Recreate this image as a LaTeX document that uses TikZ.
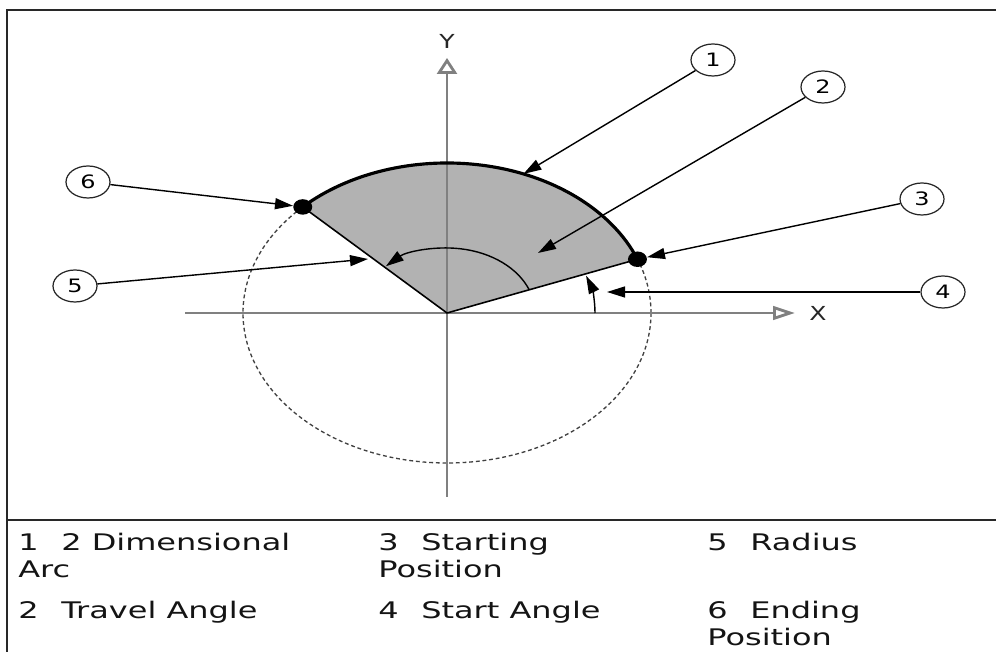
\documentclass[tikz,border=0pt]{standalone}
\usepackage{graphicx}
\usepackage{fontspec}
\setmainfont{DejaVu Sans}
\usetikzlibrary{arrows.meta,shapes.geometric}
\newcommand\sx[1]{\scalebox{1.4}[1]{#1}}
\definecolor{axisgray}{HTML}{808080}
\definecolor{sectorgray}{HTML}{B2B2B2}
\definecolor{framegray}{HTML}{282828}
\tikzset{
  frameline/.style={draw=framegray, line width=1.3pt},
  axisline/.style={draw=axisgray, line width=1.6pt},
  leader/.style={draw=black, line width=0.8pt, -{Triangle[length=0.36cm,width=0.22cm]}},
  callout/.style={ellipse, draw=black!85, line width=0.7pt, minimum width=0.88cm, minimum height=0.64cm, inner sep=0pt, font=\fontsize{10.5}{12}\selectfont},
  dotnode/.style={ellipse, fill=black, minimum width=0.38cm, minimum height=0.31cm, inner sep=0pt},
  lg/.style={anchor=base west, inner sep=0pt, font=\fontsize{13}{15}\selectfont, text=black!92},
  axlabel/.style={inner sep=0pt, font=\fontsize{11}{13}\selectfont, text=black!85}
}
\begin{document}
\begin{tikzpicture}[x=0.02cm,y=0.02cm]
\useasboundingbox (0,0) rectangle (996,652);
% frame
\coordinate (fTL) at (7,642);
\coordinate (fTR) at (996,642);
\coordinate (fBL) at (7,0);
\coordinate (sL) at (7,132);
\coordinate (sR) at (996,132);
\draw[frameline] (fTR) -- (fTL) -- (fBL);
\draw[frameline] (sL) -- (sR);

\coordinate (O) at (447,339);
% sector fill
\fill[sectorgray] (O) -- ([shift={(21:204 and 150)}]O) arc[start angle=21,end angle=135,x radius=204,y radius=150] -- cycle;
% dashed ellipse
\draw[draw=black!75, line width=0.75pt, dash pattern=on 2.2pt off 1.6pt] (O) ellipse[x radius=204, y radius=150];
% axes
\coordinate (yB) at (447,155);
\coordinate (yT) at (447,594);
\coordinate (xL) at (185,339);
\coordinate (xR) at (795,339);
\draw[axisline, -{Triangle[open, length=0.32cm, width=0.4cm, fill=white]}] (yB) -- (yT);
\draw[axisline, -{Triangle[open, length=0.44cm, width=0.27cm, fill=white]}] (xL) -- (xR);
\node[axlabel] (ylab) at (447,611) {\scalebox{1.3}[1]{Y}};
\node[axlabel] (xlab) at (818,339) {\scalebox{1.3}[1]{X}};
% sector edges
\draw[black, line width=0.9pt] ([shift={(135:204 and 150)}]O) -- (O) -- ([shift={(21:204 and 150)}]O);
\draw[black, line width=1.8pt] ([shift={(21:204 and 150)}]O) arc[start angle=21,end angle=135,x radius=204,y radius=150];
% travel angle arc
\draw[leader] ([shift={(21:88 and 65)}]O) arc[start angle=21,end angle=134,x radius=88,y radius=65];
% start angle arc
\draw[leader] ([shift={(0:148 and 109)}]O) arc[start angle=0,end angle=20,x radius=148,y radius=109];
% dots
\node[dotnode] (d3) at ([shift={(21:204 and 150)}]O) {};
\node[dotnode] (d6) at ([shift={(135:204 and 150)}]O) {};
% callouts
\node[callout] (c1) at (713,592) {\scalebox{1.3}[1]{1}};
\node[callout] (c2) at (823,565) {\scalebox{1.3}[1]{2}};
\node[callout] (c3) at (922,453) {\scalebox{1.3}[1]{3}};
\node[callout] (c4) at (943,360) {\scalebox{1.3}[1]{4}};
\node[callout] (c5) at (75,366) {\scalebox{1.3}[1]{5}};
\node[callout] (c6) at (88,470) {\scalebox{1.3}[1]{6}};
\coordinate (t1) at ([shift={(68:204 and 150)}]O);
\coordinate (t2) at (538,399);
\coordinate (t4) at (607,360);
\coordinate (t5) at (368,393);
\draw[leader] (c1) -- (t1);
\draw[leader] (c2) -- (t2);
\draw[leader] (c3) -- (d3);
\draw[leader] (c4.west) -- (t4);
\draw[leader] (c5) -- (t5);
\draw[leader] (c6) -- (d6);
% legend
\node[lg] (l1a) at (18,101) {\sx{\makebox[0.614cm][l]{1}2 Dimensional}};
\node[lg] (l1b) at (18,74) {\sx{Arc}};
\node[lg] (l2a) at (18,34) {\sx{\makebox[0.614cm][l]{2}Travel Angle}};
\node[lg] (l3a) at (378,101) {\sx{\makebox[0.614cm][l]{3}Starting}};
\node[lg] (l3b) at (378,74) {\sx{Position}};
\node[lg] (l4a) at (378,34) {\sx{\makebox[0.614cm][l]{4}Start Angle}};
\node[lg] (l5a) at (707,101) {\sx{\makebox[0.614cm][l]{5}Radius}};
\node[lg] (l6a) at (707,34) {\sx{\makebox[0.614cm][l]{6}Ending}};
\node[lg] (l6b) at (707,7) {\sx{Position}};
\end{tikzpicture}
\end{document}
